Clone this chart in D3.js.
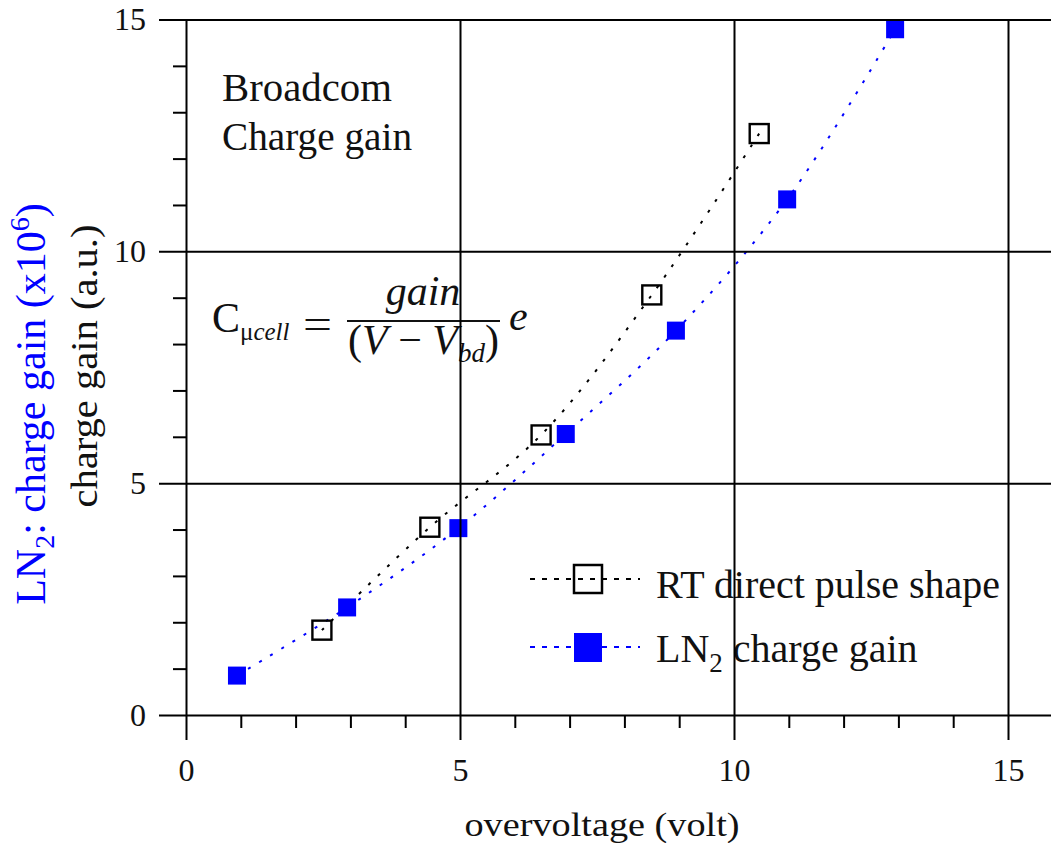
<!DOCTYPE html>
<html><head><meta charset="utf-8">
<script src="https://cdn.jsdelivr.net/npm/d3@7"></script>
<style>body{margin:0;background:#fff} svg{display:block}</style>
</head><body><svg id="c" width="1051" height="843"></svg>
<script>
// ---- data ----
const rtX  = [2.48, 4.45, 6.48, 8.50, 10.46];
const rtY  = [1.83, 4.05, 6.04, 9.06, 12.54];
const ln2X = [0.93, 2.94, 4.97, 6.93, 8.94, 10.97, 12.94];
const ln2Y = [0.85, 2.32, 4.03, 6.06, 8.29, 11.12, 14.79];
const xMajorTicks = [0, 5, 10, 15];
const yMajorTicks = [0, 5, 10, 15];
const xMinorTicks = [1,2,3,4,6,7,8,9,11,12,13,14,16];
const yMinorTicks = [1,2,3,4,6,7,8,9,11,12,13,14];
const seriesNames = ["RT direct pulse shape", "charge gain"];

const W = 1051, H = 843;
const svg = d3.select("#c");
const serif = "'Liberation Serif','Times New Roman',serif";
const x = d3.scaleLinear().domain([0, 16]).range([186, 186 + 16 * 54.8]);
const y = d3.scaleLinear().domain([0, 15]).range([715, 19.5]);
const ink = "#111";

// ---- annotation texts (under the grid) ----
const ann = svg.append("g").attr("font-family", serif).attr("fill", ink);
ann.append("text").attr("x", 222).attr("y", 101).attr("font-size", 39)
  .attr("textLength", 170).attr("lengthAdjust", "spacingAndGlyphs").text("Broadcom");
ann.append("text").attr("x", 222).attr("y", 150).attr("font-size", 39)
  .attr("textLength", 190).attr("lengthAdjust", "spacingAndGlyphs").text("Charge gain");

// formula
const f = svg.append("g").attr("font-family", serif).attr("fill", ink);
const t1 = f.append("text").attr("x", 212).attr("y", 332).attr("font-size", 42);
t1.append("tspan").text("C");
t1.append("tspan").attr("font-size", 25).attr("dy", 8).text("\u03bc");
t1.append("tspan").attr("font-size", 25).attr("font-style", "italic").text("cell");
f.append("text").attr("x", 303).attr("y", 338).attr("font-size", 42)
  .attr("textLength", 29).attr("lengthAdjust", "spacingAndGlyphs").text("=");
f.append("line").attr("x1", 347).attr("x2", 500).attr("y1", 321).attr("y2", 321)
  .attr("stroke", ink).attr("stroke-width", 2);
f.append("text").attr("x", 423).attr("y", 305).attr("text-anchor", "middle")
  .attr("font-size", 42).attr("font-style", "italic").text("gain");
const den = f.append("text").attr("x", 348).attr("y", 354).attr("font-size", 42);
den.append("tspan").text("(");
den.append("tspan").attr("font-style", "italic").text("V");
den.append("tspan").text(" \u2212 ");
den.append("tspan").attr("font-style", "italic").text("V");
den.append("tspan").attr("font-size", 27).attr("font-style", "italic").attr("dy", 8).text("bd");
den.append("tspan").attr("dy", -8).text(")");
f.append("text").attr("x", 509).attr("y", 330).attr("font-size", 42).attr("font-style", "italic").text("e");

// ---- legend ----
const leg = svg.append("g").attr("font-family", serif).attr("fill", ink);
const legRows = [
  {cy: 579, color: "#000", filled: false},
  {cy: 647, color: "#0000ff", filled: true}
];
legRows.forEach(r => {
  leg.append("line").attr("x1", 530).attr("x2", 640).attr("y1", r.cy).attr("y2", r.cy)
    .attr("stroke", r.color).attr("stroke-width", 2).attr("stroke-dasharray", "5,7");
  if (r.filled) {
    leg.append("rect").attr("x", 574).attr("y", r.cy - 14).attr("width", 28).attr("height", 29)
      .attr("fill", r.color);
  } else {
    leg.append("rect").attr("x", 574).attr("y", r.cy - 14).attr("width", 28).attr("height", 28)
      .attr("fill", "none").attr("stroke", r.color).attr("stroke-width", 2.5);
  }
});
leg.append("text").attr("x", 656).attr("y", 598).attr("font-size", 39)
  .attr("textLength", 344).attr("lengthAdjust", "spacingAndGlyphs").text(seriesNames[0]);
const l2 = leg.append("text").attr("x", 656).attr("y", 662).attr("font-size", 40);
l2.append("tspan").text("LN");
l2.append("tspan").attr("font-size", 27).attr("dy", 10).text("2");
l2.append("tspan").attr("dy", -10).text(" " + seriesNames[1]);

// ---- axis titles ----
svg.append("text").attr("x", 602).attr("y", 836).attr("text-anchor", "middle")
  .attr("font-family", serif).attr("font-size", 34).attr("fill", ink)
  .attr("textLength", 275).attr("lengthAdjust", "spacingAndGlyphs")
  .text("overvoltage (volt)");
svg.append("text").attr("transform", "translate(97,366) rotate(-90)")
  .attr("text-anchor", "middle").attr("font-family", serif).attr("font-size", 38).attr("fill", ink)
  .attr("textLength", 283).attr("lengthAdjust", "spacingAndGlyphs")
  .text("charge gain (a.u.)");
const bt = svg.append("text").attr("transform", "translate(45,404) rotate(-90)")
  .attr("text-anchor", "middle").attr("font-family", serif).attr("font-size", 42).attr("fill", "#0000ff");
bt.append("tspan").text("LN");
bt.append("tspan").attr("font-size", 28).attr("dy", 9).text("2");
bt.append("tspan").attr("dy", -9).text(": charge gain (x10");
bt.append("tspan").attr("font-size", 28).attr("dy", -16).text("6");
bt.append("tspan").attr("dy", 16).text(")");

// ---- curves and markers ----
const line = d3.line().x(d => x(d[0])).y(d => y(d[1])).curve(d3.curveCatmullRom.alpha(0.5));
const rt = rtX.map((v, i) => [v, rtY[i]]);
const ln2 = ln2X.map((v, i) => [v, ln2Y[i]]);
svg.append("path").attr("d", line(rt)).attr("fill", "none").attr("stroke", "#000")
  .attr("stroke-width", 2).attr("stroke-dasharray", "3,10");
svg.append("path").attr("d", line(ln2)).attr("fill", "none").attr("stroke", "#0000ff")
  .attr("stroke-width", 2).attr("stroke-dasharray", "3,10");
svg.append("g").selectAll("rect").data(rt).join("rect")
  .attr("x", d => x(d[0]) - 9.5).attr("y", d => y(d[1]) - 9.5)
  .attr("width", 19).attr("height", 19)
  .attr("fill", "none").attr("stroke", "#000").attr("stroke-width", 2.4);
svg.append("g").selectAll("rect").data(ln2).join("rect")
  .attr("x", d => x(d[0]) - 9).attr("y", d => y(d[1]) - 9)
  .attr("width", 18).attr("height", 18).attr("fill", "#0000ff");

// ---- axes and grid (on top) ----
const gridUp = y(0) - y(15);
const gx = svg.append("g").attr("transform", `translate(0,${y(0)})`)
  .call(d3.axisBottom(x).tickValues(xMajorTicks).tickSizeInner(25).tickSizeOuter(0).tickPadding(18).tickFormat(d3.format("d")));
gx.select(".domain").remove();
gx.selectAll(".tick line").attr("y1", -gridUp).attr("stroke", "#000").attr("stroke-width", 2);
gx.selectAll(".tick text").attr("font-family", serif).attr("font-size", 32).attr("fill", ink);
const gxm = svg.append("g").attr("transform", `translate(0,${y(0)})`)
  .call(d3.axisBottom(x).tickValues(xMinorTicks).tickSizeInner(13).tickSizeOuter(0).tickFormat(""));
gxm.select(".domain").remove();
gxm.selectAll(".tick line").attr("stroke", "#000").attr("stroke-width", 2);

const gridRight = W + 10 - x(0);
const gy = svg.append("g").attr("transform", `translate(${x(0)},0)`)
  .call(d3.axisLeft(y).tickValues(yMajorTicks).tickSizeInner(27).tickSizeOuter(0).tickPadding(13).tickFormat(d3.format("d")));
gy.select(".domain").remove();
gy.selectAll(".tick line").attr("x1", gridRight).attr("stroke", "#000").attr("stroke-width", 2);
gy.selectAll(".tick text").attr("font-family", serif).attr("font-size", 32).attr("fill", ink);
const gym = svg.append("g").attr("transform", `translate(${x(0)},0)`)
  .call(d3.axisLeft(y).tickValues(yMinorTicks).tickSizeInner(13).tickSizeOuter(0).tickFormat(""));
gym.select(".domain").remove();
gym.selectAll(".tick line").attr("stroke", "#000").attr("stroke-width", 2);
</script></body></html>
